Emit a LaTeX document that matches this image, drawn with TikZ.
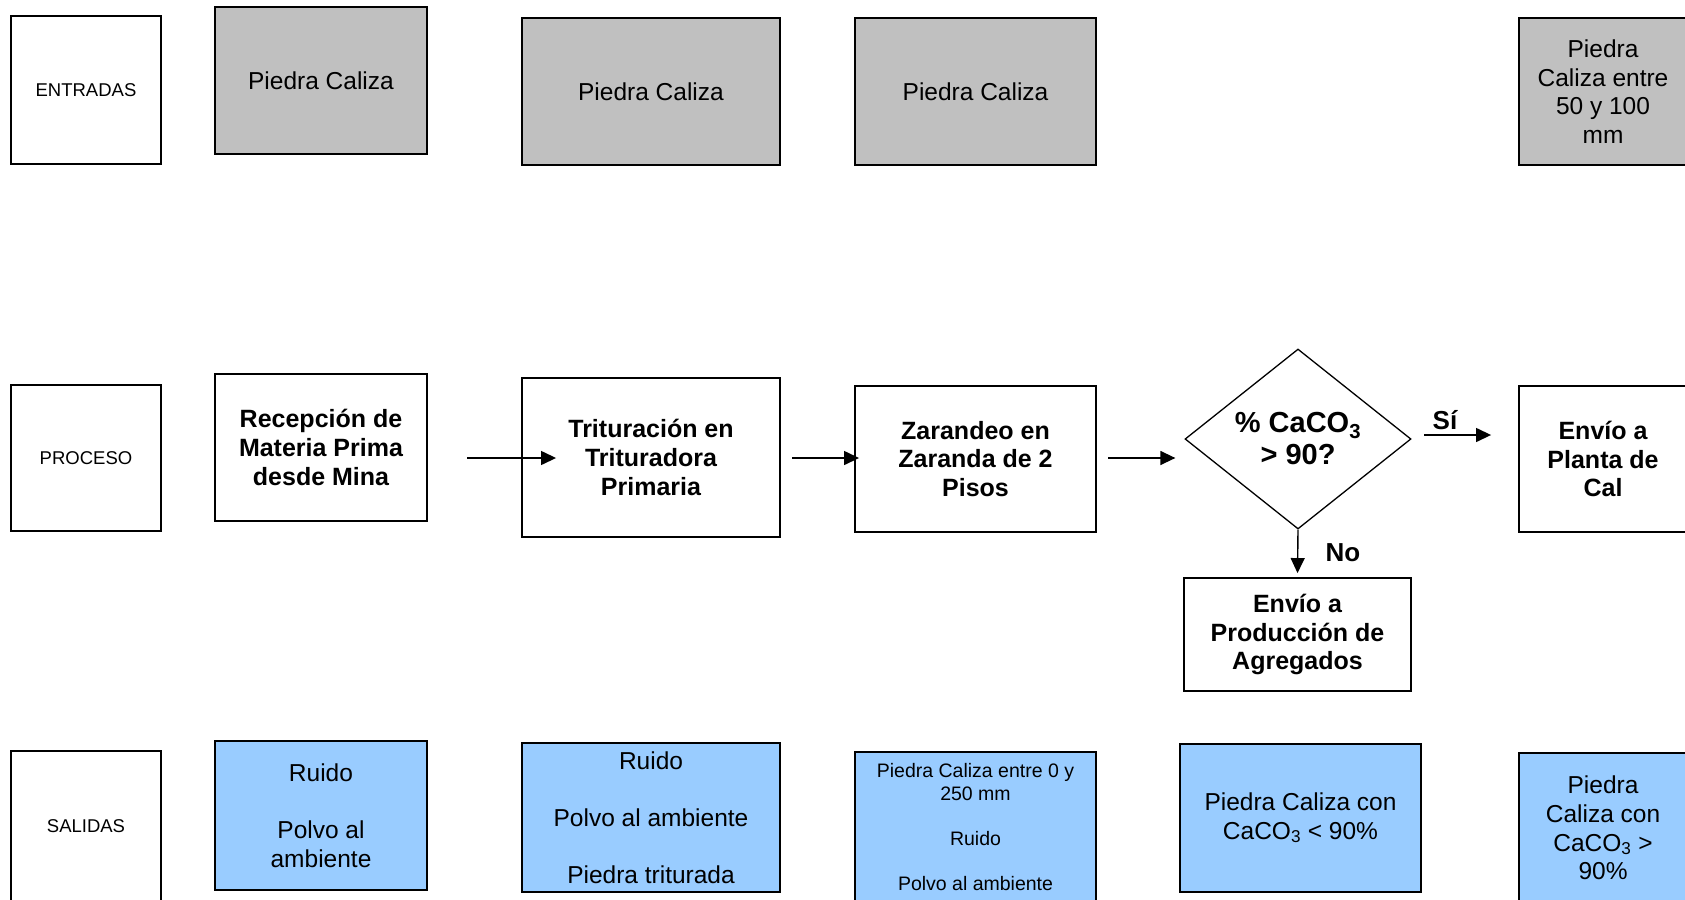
\documentclass[tikz,border=0pt]{standalone}
\usepackage{fontspec}
\setmainfont{Liberation Sans}
\usetikzlibrary{shapes.geometric,arrows.meta}
\definecolor{grayfill}{HTML}{C0C0C0}
\definecolor{bluefill}{HTML}{99CCFF}
\begin{document}
\begin{tikzpicture}[x=1pt,y=-1pt,
  box/.style={draw=black,line width=1.9pt,inner sep=0pt,align=center},
  rowlabel/.style={box,fill=white,font=\fontsize{18.5}{21}\selectfont},
  inbox/.style={box,fill=grayfill,font=\fontsize{24.5}{28.6}\selectfont},
  proc/.style={box,fill=white,font=\fontsize{25}{28.6}\selectfont\bfseries},
  outbox/.style={box,fill=bluefill,font=\fontsize{24.5}{28.6}\selectfont},
  smallout/.style={box,fill=bluefill,font=\fontsize{19.5}{22.6}\selectfont},
  decision/.style={diamond,draw=black,line width=1.3pt,inner sep=0pt,align=center,
    font=\fontsize{29}{32}\selectfont\bfseries},
  flow/.style={line width=1.4pt,-{Triangle[length=15pt,width=14pt]}},
  flowlabel/.style={inner sep=0pt,font=\fontsize{26}{30}\selectfont\bfseries}]
\useasboundingbox (0,0) rectangle (1685,899);
% ENTRADAS row
\node[rowlabel,minimum width=150pt,minimum height=148pt] (ent) at (86,90) {ENTRADAS};
\node[inbox,minimum width=212pt,minimum height=147pt] (in1) at (321,80.5) {Piedra Caliza};
\node[inbox,minimum width=258pt,minimum height=147pt] (in2) at (651,91.5) {Piedra Caliza};
\node[inbox,minimum width=241pt,minimum height=147pt] (in3) at (975.5,91.5) {Piedra Caliza};
\node[inbox,minimum width=168pt,minimum height=147pt] (in4) at (1603,91.5) {Piedra\\Caliza entre\\50 y 100\\mm};
% PROCESO row
\node[rowlabel,minimum width=150pt,minimum height=146pt] (pro) at (86,458) {PROCESO};
\node[proc,minimum width=212pt,minimum height=147pt] (rec) at (321,447.5) {Recepción de\\Materia Prima\\desde Mina};
\node[proc,minimum width=258pt,minimum height=159pt] (tri) at (651,457.5) {Trituración en\\Trituradora\\Primaria};
\node[proc,minimum width=241pt,minimum height=146pt] (zar) at (975.5,459) {Zarandeo en\\Zaranda de 2\\Pisos};
\node[decision,minimum width=226pt,minimum height=180pt] (dec) at (1298,439) {\% CaCO\textsubscript{3}\\> 90?};
\node[proc,minimum width=168pt,minimum height=146pt] (pla) at (1603,459) {Envío a\\Planta de\\Cal};
\node[proc,minimum width=227pt,minimum height=113pt] (agr) at (1297.5,634.5) {Envío a\\Producción de\\Agregados};
% SALIDAS row
\node[rowlabel,minimum width=150pt,minimum height=150pt] (sal) at (86,826) {SALIDAS};
\node[outbox,minimum width=212pt,minimum height=149pt] (out1) at (321,815.5) {Ruido\\[28.6pt]Polvo al\\ambiente};
\node[outbox,minimum width=258pt,minimum height=149pt] (out2) at (651,817.5) {Ruido\\[28.6pt]Polvo al ambiente\\[28.6pt]Piedra triturada};
\node[smallout,minimum width=241pt,minimum height=150pt] (out3) at (975.5,827) {Piedra Caliza entre 0 y\\250 mm\\[22.6pt]Ruido\\[22.6pt]Polvo al ambiente};
\node[outbox,minimum width=241pt,minimum height=148pt] (out4) at (1300.5,818) {Piedra Caliza con\\CaCO\textsubscript{3} < 90\%};
\node[outbox,minimum width=168pt,minimum height=150pt] (out5) at (1603,828) {Piedra\\Caliza con\\CaCO\textsubscript{3} >\\90\%};
% connectors
\coordinate (a1s) at (467,458);
\coordinate (a2s) at (792,458);
\coordinate (a3s) at (1108,458);
\coordinate (a4s) at (1424,435);
\draw[flow] (a1s) -- ([xshift=35pt]a1s -| tri.west);
\draw[flow] (a2s) -- ([xshift=5pt]a2s -| zar.west);
\draw[flow] (a3s) -- ([xshift=-9pt]a3s -| dec.west);
\draw[flow] (a4s) -- ([xshift=-27pt]a4s -| pla.west);
\draw[flow] (dec.south) -- ([yshift=4pt]agr.north);
\node[flowlabel] (si) at (1445,420) {Sí};
\node[flowlabel] (no) at (1343,553) {No};
\end{tikzpicture}
\end{document}
